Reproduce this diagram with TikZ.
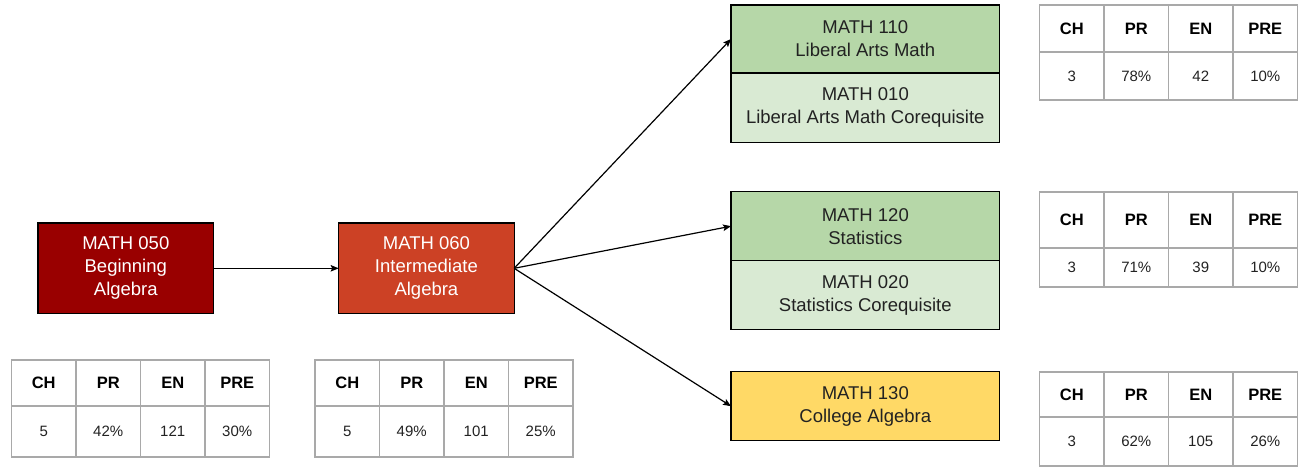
\documentclass[tikz,border=0pt]{standalone}
\usepackage{fontspec}
\setmainfont{Liberation Sans}
\usetikzlibrary{arrows.meta,positioning}

\definecolor{redA}{HTML}{990000}
\definecolor{redB}{HTML}{CC4125}
\definecolor{greenA}{HTML}{B6D7A8}
\definecolor{greenB}{HTML}{D9EAD3}
\definecolor{yellowA}{HTML}{FFD966}
\definecolor{tabgray}{HTML}{A9A9A9}
\definecolor{inkgray}{HTML}{222222}

% one results table: name, left, top, header height, row height, CH, PR, EN, PRE
\newcommand{\stattab}[9]{%
  \draw[tabline] (#2,#3) rectangle ++(258,{#4+#5});
  \draw[tabline] (#2,{#3+#4}) -- ++(258,0);
  \foreach \i in {1,2,3} \draw[tabline] ({#2+64.5*\i},#3) -- ++(0,{#4+#5});
  \foreach \h [count=\i] in {CH,PR,EN,PRE}
    \node[tabhead] (#1h\i) at ({#2+64.5*\i-32.25},{#3+#4/2}) {\h};
  \node[tabval] (#1v1) at ({#2+32.25},{#3+#4+#5/2}) {#6};
  \node[tabval] (#1v2) at ({#2+96.75},{#3+#4+#5/2}) {#7};
  \node[tabval] (#1v3) at ({#2+161.25},{#3+#4+#5/2}) {#8};
  \node[tabval] (#1v4) at ({#2+225.75},{#3+#4+#5/2}) {#9};
}

\begin{document}
\begin{tikzpicture}[x=1pt, y=-1pt,
    course/.style = {draw, line width=1.3pt, outer sep=0pt, inner sep=0pt, align=center,
      text=inkgray, font=\fontsize{18.5}{23}\selectfont},
    wide/.style = {course, minimum width=268.5, minimum height=69},
    short/.style = {course, minimum width=175.5, minimum height=90.5, text=white},
    tabline/.style = {draw=tabgray, line width=1.8pt},
    tabhead/.style = {font=\fontsize{16.5}{20}\selectfont\bfseries, text=black},
    tabval/.style = {font=\fontsize{15}{18}\selectfont, text=inkgray},
    link/.style = {-{Stealth[length=8pt, width=6.5pt, inset=1.5pt]}, line width=1.2pt}]
  \useasboundingbox (0,0) rectangle (1299,467);

  \node[short, fill=redA] (m050) at (125.8,268.3) {MATH 050\\Beginning\\Algebra};
  \node[short, fill=redB] (m060) at (426.4,268.3) {MATH 060\\Intermediate\\Algebra};

  \node[wide, fill=greenA, minimum height=68] (m110) at (865.3,39) {MATH 110\\Liberal Arts Math};
  \node[wide, fill=greenB, minimum height=69.5, below=0pt of m110] (m010) {MATH 010\\Liberal Arts Math Corequisite};
  \node[wide, fill=greenA] (m120) at (865.3,226.2) {MATH 120\\Statistics};
  \node[wide, fill=greenB, below=0pt of m120] (m020) {MATH 020\\Statistics Corequisite};
  \node[wide, fill=yellowA] (m130) at (865.3,406.2) {MATH 130\\College Algebra};

  \draw[link] (m050) -- (m060);
  \draw[link] (m060.east) -- (m110.west);
  \draw[link] (m060.east) -- (m120.west);
  \draw[link] (m060.east) -- (m130.west);

  \stattab{t050}{11.5}{360}{46}{51.3}{5}{42\%}{121}{30\%}
  \stattab{t060}{315}{360}{46}{51.3}{5}{49\%}{101}{25\%}
  \stattab{t110}{1039.5}{5}{46.7}{48.3}{3}{78\%}{42}{10\%}
  \stattab{t120}{1039.5}{191.7}{56.6}{39}{3}{71\%}{39}{10\%}
  \stattab{t130}{1039.5}{371.7}{45.6}{49}{3}{62\%}{105}{26\%}
\end{tikzpicture}
\end{document}
